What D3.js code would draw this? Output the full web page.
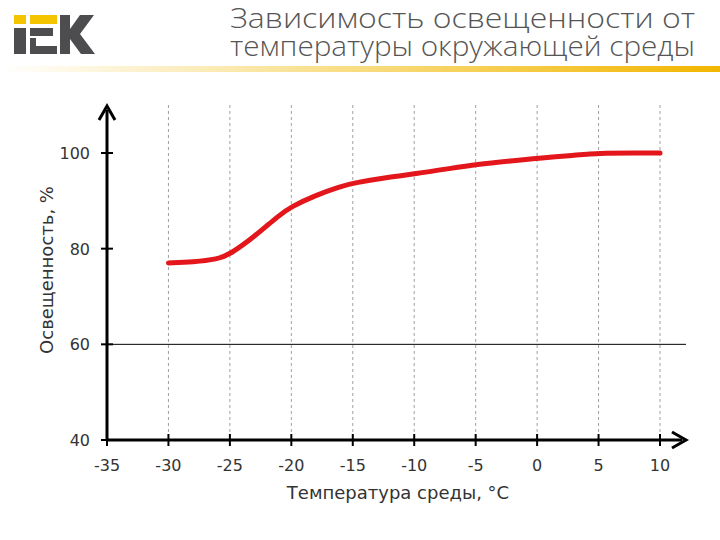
<!DOCTYPE html>
<html><head><meta charset="utf-8">
<script src="https://cdn.jsdelivr.net/npm/d3@7"></script>
<style>body{margin:0;background:#fff}</style></head>
<body><svg id="c" width="720" height="540"></svg>
<script>
var temps = [-30, -28, -26, -25, -23, -21, -20, -18, -16, -15, -12, -10, -7, -5, -2, 0, 3, 5, 8, 10];
var lux   = [77, 77.2, 77.8, 78.8, 82.5, 87, 88.8, 91.2, 93, 93.7, 95, 95.6, 96.8, 97.6, 98.4, 98.9, 99.5, 100, 100, 100];
var xTicks = [-35, -30, -25, -20, -15, -10, -5, 0, 5, 10];
var yTicks = [40, 60, 80, 100];

var svg = d3.select("#c");
var x = d3.scaleLinear().domain([-35, 10]).range([107, 660]);
var y = d3.scaleLinear().domain([40, 100]).range([440, 153]);

// logo
var lg = svg.append("g").attr("fill", "#4d4d4f");
lg.append("rect").attr("x", 14).attr("y", 15).attr("width", 12).attr("height", 9).attr("fill", "#f5c400");
lg.append("rect").attr("x", 14).attr("y", 28).attr("width", 12).attr("height", 26);
lg.append("rect").attr("x", 30).attr("y", 15).attr("width", 27).attr("height", 9).attr("fill", "#f5c400");
lg.append("rect").attr("x", 30).attr("y", 28).attr("width", 23).attr("height", 8);
lg.append("rect").attr("x", 30).attr("y", 38).attr("width", 6).attr("height", 16);
lg.append("rect").attr("x", 30).attr("y", 46).attr("width", 27).attr("height", 8);
lg.append("path").attr("d", "M60,15h10v14l10,-14h14l-14,19l15,20h-14l-11,-15v15h-10z");

// title
[["Зависимость освещенности от", 28], ["температуры окружающей среды", 56]].forEach(function (t) {
  svg.append("text").attr("x", 695).attr("y", t[1]).attr("text-anchor", "end")
    .attr("font-family", "Open Sans").attr("font-weight", 300).attr("font-size", 27).attr("fill", "#555")
    .attr("textLength", t[0].length > 28 ? 515 : 465).attr("lengthAdjust", "spacingAndGlyphs")
    .text(t[0]);
});
var gr = svg.append("defs").append("linearGradient").attr("id", "yl");
gr.append("stop").attr("offset", "0").attr("stop-color", "#fff");
gr.append("stop").attr("offset", "0.5").attr("stop-color", "#f8dc80");
gr.append("stop").attr("offset", "1").attr("stop-color", "#f2b600");
svg.append("rect").attr("x", 0).attr("y", 66).attr("width", 720).attr("height", 6).attr("fill", "url(#yl)");

// grid
svg.selectAll(".vg").data(xTicks.slice(1)).enter().append("line")
  .attr("x1", d => x(d)).attr("x2", d => x(d)).attr("y1", 105).attr("y2", 440)
  .attr("stroke", "#888").attr("stroke-dasharray", "3,3").attr("stroke-width", 0.8);
svg.append("line").attr("x1", 107).attr("x2", 686).attr("y1", y(60)).attr("y2", y(60)).attr("stroke", "#000");

// axes
var ax = svg.append("g").attr("font-family", "Verdana, DejaVu Sans").attr("font-size", 16).attr("fill", "#333");
svg.append("line").attr("x1", 107).attr("x2", 682).attr("y1", 440).attr("y2", 440).attr("stroke", "#000").attr("stroke-width", 3);
svg.append("path").attr("d", "M672,432L686,440L672,448").attr("fill", "none").attr("stroke", "#000").attr("stroke-width", 3);
svg.append("line").attr("x1", 107).attr("x2", 107).attr("y1", 440).attr("y2", 110).attr("stroke", "#000").attr("stroke-width", 3);
svg.append("path").attr("d", "M99,120L107,106L115,120").attr("fill", "none").attr("stroke", "#000").attr("stroke-width", 3);
svg.selectAll(".xt").data(xTicks).enter().append("line")
  .attr("x1", d => x(d)).attr("x2", d => x(d)).attr("y1", 434).attr("y2", 446).attr("stroke", "#000").attr("stroke-width", 2);
svg.selectAll(".yt").data(yTicks).enter().append("line")
  .attr("x1", 101).attr("x2", 113).attr("y1", d => y(d)).attr("y2", d => y(d)).attr("stroke", "#000").attr("stroke-width", 2);
ax.selectAll(".xl").data(xTicks).enter().append("text")
  .attr("x", d => x(d)).attr("y", 471).attr("text-anchor", "middle").text(d => d);
ax.selectAll(".yl").data(yTicks).enter().append("text")
  .attr("x", 90).attr("y", d => y(d) + 6).attr("text-anchor", "end").text(d => d);
ax.append("text").attr("x", 398).attr("y", 499).attr("text-anchor", "middle").attr("font-size", 18)
  .text("Температура среды, °C");
ax.append("text").attr("transform", "translate(53,270) rotate(-90)").attr("text-anchor", "middle").attr("font-size", 18)
  .text("Освещенность, %");

// curve
svg.append("path").datum(temps.map((t, i) => [t, lux[i]]))
  .attr("d", d3.line().x(d => x(d[0])).y(d => y(d[1])).curve(d3.curveBasis))
  .attr("fill", "none").attr("stroke", "#e3161b").attr("stroke-width", 5).attr("stroke-linecap", "round");
</script></body></html>
